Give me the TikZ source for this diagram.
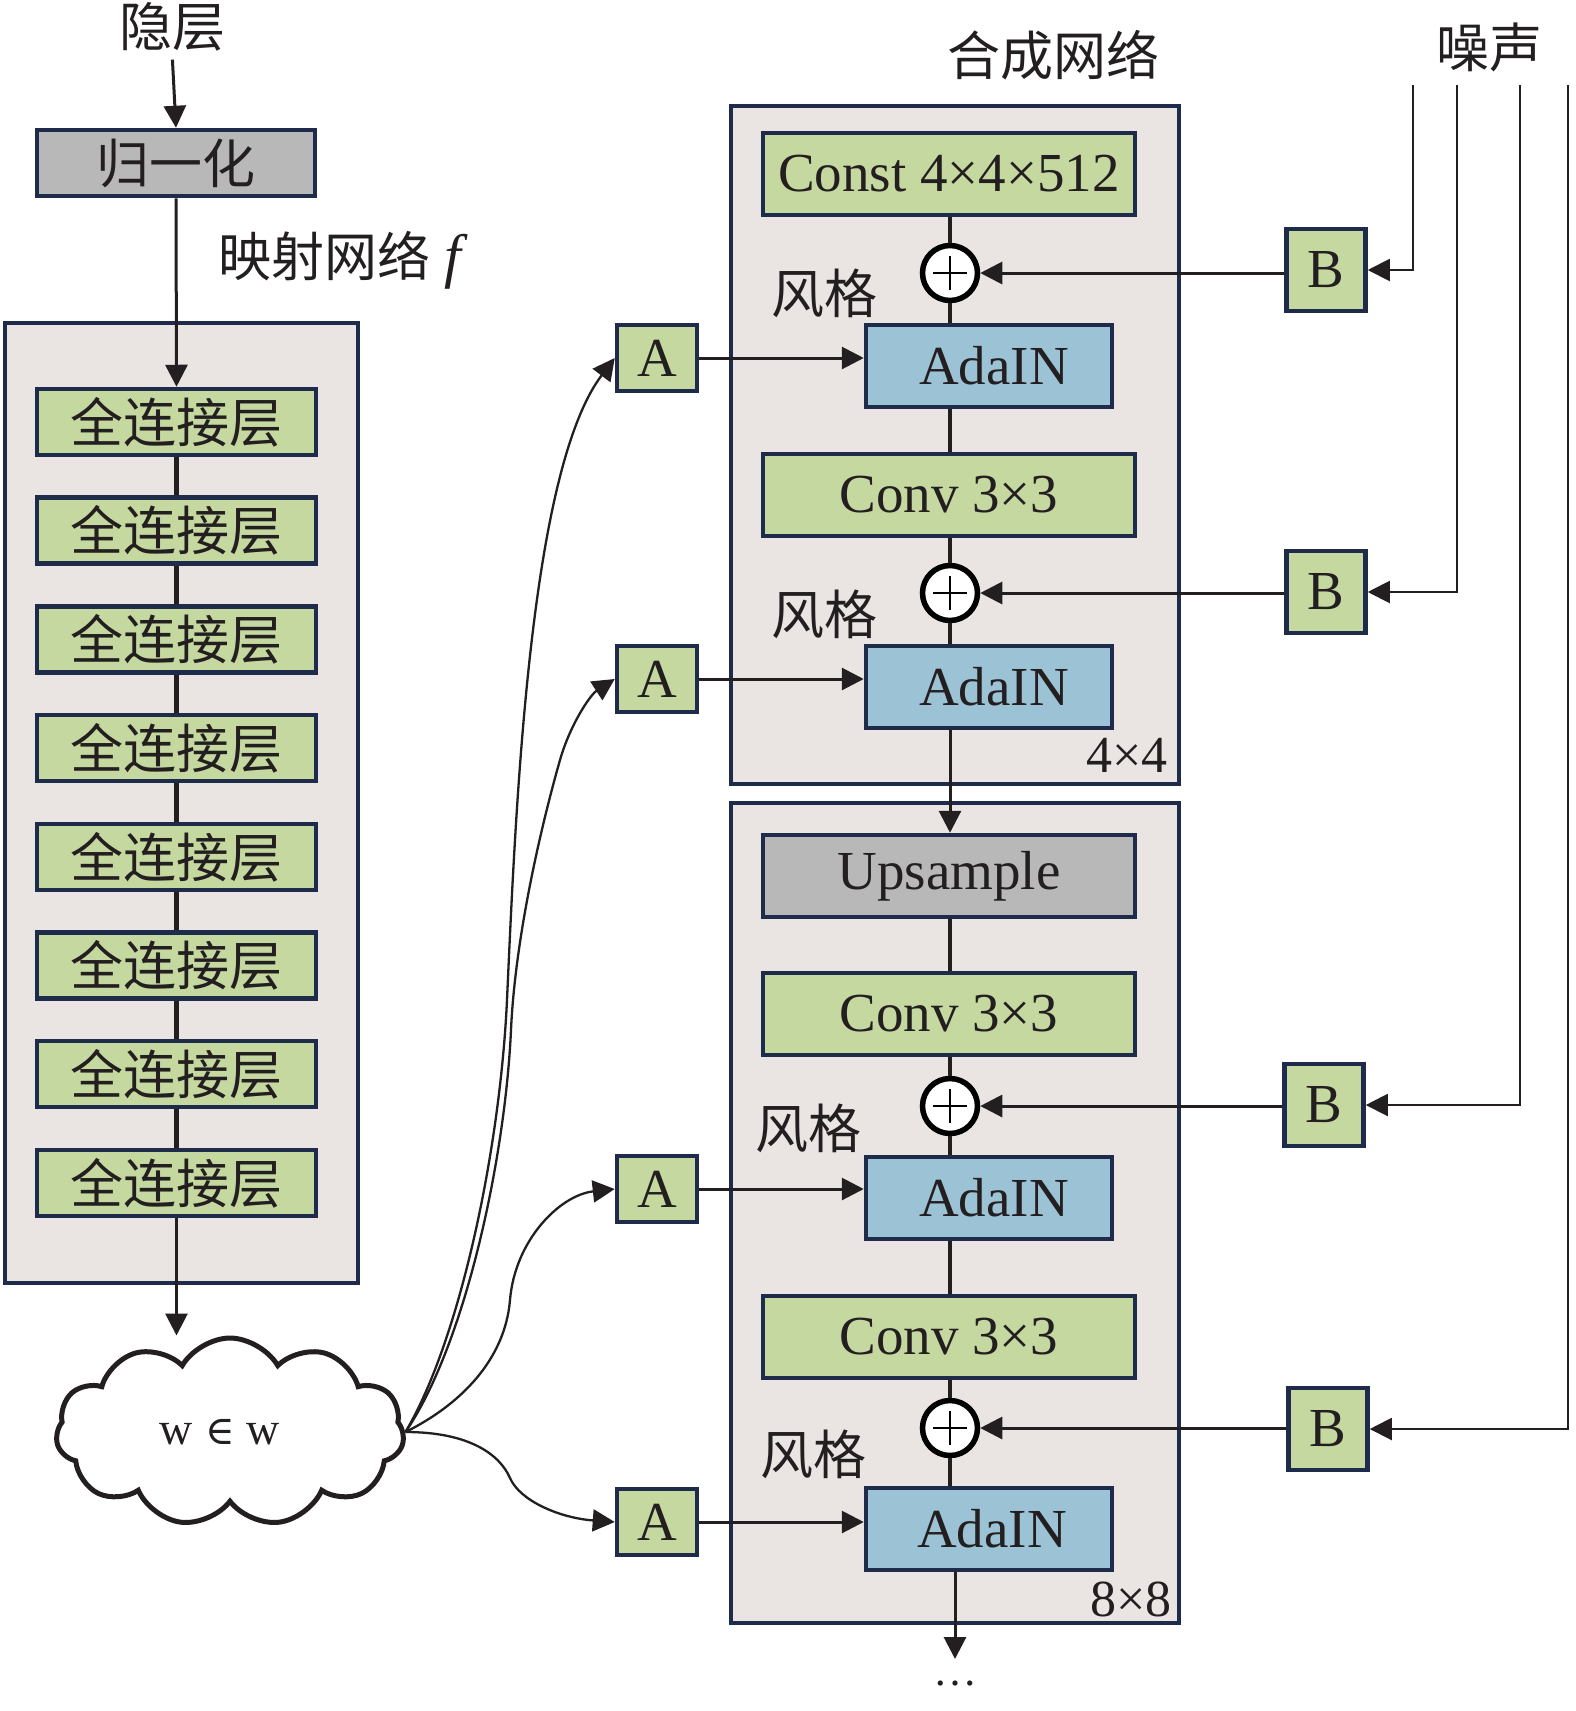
\documentclass[tikz,border=0pt]{standalone}
\usepackage{fontspec}
\setmainfont{Liberation Serif}
\newfontfamily\cjk{Noto Sans CJK SC}
\newfontfamily\symfont{DejaVu Serif}
\usetikzlibrary{arrows.meta,shapes.symbols}
\definecolor{boxgreen}{HTML}{C5D8A0}
\definecolor{boxblue}{HTML}{9BC3D5}
\definecolor{boxgray}{HTML}{B8B8B8}
\definecolor{panelbg}{HTML}{EAE5E3}
\definecolor{navy}{HTML}{1F2B4A}
\definecolor{ink}{HTML}{231F20}
\begin{document}
\begin{tikzpicture}[x=1pt,y=-1pt,
  every node/.style={text=ink, inner sep=0pt},
  cjkfont/.style={font=\cjk\fontsize{53}{60}\selectfont},
  latfont/.style={font=\fontsize{55}{62}\selectfont},
  block/.style={draw=navy, line width=4.5pt, minimum height=82pt},
  fc/.style={block, fill=boxgreen, minimum width=279pt, minimum height=66pt, cjkfont},
  normbox/.style={block, fill=boxgray, minimum width=278pt, minimum height=66pt, cjkfont},
  wide/.style={block, minimum width=372pt, latfont},
  ada/.style={block, fill=boxblue, minimum width=246pt, latfont},
  abox/.style={block, fill=boxgreen, minimum width=80pt, minimum height=66pt, latfont},
  bbox/.style={block, fill=boxgreen, minimum width=79pt, minimum height=82pt, latfont},
  panel/.style={fill=panelbg, draw=navy, line width=4pt},
  oplus/.style={circle, draw=black, fill=white, line width=5.5pt, minimum size=55pt,
    path picture={\draw[line width=2.5pt,black]
      ([xshift=-17pt]path picture bounding box.center) -- ([xshift=17pt]path picture bounding box.center)
      ([yshift=-17pt]path picture bounding box.center) -- ([yshift=17pt]path picture bounding box.center);}},
  arr/.style={draw=ink, line width=3pt, -{Triangle[length=22pt,width=22pt]}},
  curvearr/.style={arr, line width=2.3pt},
  noisearr/.style={arr, line width=2pt},
  link/.style={draw=ink, line width=4.5pt}
]
\useasboundingbox (0,0) rectangle (1575,1711);

% ---------- mapping network ----------
\path[panel] (5,323) rectangle (358,1283);
\node[cjkfont] (hid) at (172,27) {隐层};
\node[normbox] (norm) at (176,163) {归一化};
\node[cjkfont, anchor=west] (mapl) at (218,260)
  {映射网络\hspace{14pt}{\rmfamily\itshape\fontsize{60}{66}\selectfont f}};
\foreach \i in {1,...,8}{
  \node[fc] (fc\i) at (176.5,{422+108.7*(\i-1)}) {全连接层};
}
\draw[arr, shorten <=8pt] (hid.south) -- (norm.north);
\draw[arr] (norm.south) -- (fc1.north);
\foreach \i [count=\j from 2] in {1,...,7}{
  \draw[link] (fc\i.south) -- (fc\j.north);
}
\node[cloud, cloud puffs=11, cloud puff arc=120, aspect=1.8, draw=ink, line width=5pt,
      fill=white, minimum width=348pt, minimum height=188pt,
      font=\fontsize{46}{52}\selectfont] (w) at (230,1432)
      {\hspace{-20pt}w\hspace{12pt}{\symfont\fontsize{40}{46}\selectfont ∈}\hspace{12pt}w};
\draw[arr] (fc8.south) -- (fc8.south |- w.north);

% ---------- synthesis network ----------
\node[cjkfont] (synt) at (1053,55) {合成网络};
\path[panel] (731,106) rectangle (1179,784);
\path[panel] (731,803) rectangle (1179,1623);

\node[wide, fill=boxgreen] (const) at (949,174) {Const 4×4×512};
\node[oplus] (p1) at (950,273) {};
\node[cjkfont] (s1) at (824,293) {风格};
\node[ada] (ada1) at (989,366) {\hspace{10pt}AdaIN};
\node[wide, fill=boxgreen] (conv1) at (949,495) {Conv 3×3};
\node[oplus] (p2) at (950,593) {};
\node[cjkfont] (s2) at (824,614) {风格};
\node[ada] (ada2) at (989,687) {\hspace{10pt}AdaIN};
\node[font=\fontsize{52}{58}\selectfont, anchor=east] (r4) at (1168,755) {4×4};

\node[wide, fill=boxgray] (up) at (949,876) {Upsample};
\node[wide, fill=boxgreen] (conv2) at (949,1014) {Conv 3×3};
\node[oplus] (p3) at (950,1106) {};
\node[cjkfont] (s3) at (808,1128) {风格};
\node[ada] (ada3) at (989,1198) {\hspace{10pt}AdaIN};
\node[wide, fill=boxgreen] (conv3) at (949,1337) {Conv 3×3};
\node[oplus] (p4) at (950,1428) {};
\node[cjkfont] (s4) at (813,1454) {风格};
\node[ada] (ada4) at (989,1529) {\hspace{6pt}AdaIN};
\node[font=\fontsize{52}{58}\selectfont, anchor=east] (r8) at (1172,1599) {8×8};

\coordinate (out) at (955,1659);
\node[font=\fontsize{44}{50}\selectfont] (dots) at (955,1684) {…};

% chain
\draw[link] (p1 |- const.south) -- (p1.north);
\draw[link] (p1.south) -- (p1 |- ada1.north);
\draw[link] (p1 |- ada1.south) -- (p1 |- conv1.north);
\draw[link] (p2 |- conv1.south) -- (p2.north);
\draw[link] (p2.south) -- (p2 |- ada2.north);
\draw[arr] (p2 |- ada2.south) -- (p2 |- up.north);
\draw[link] (p3 |- up.south) -- (p3 |- conv2.north);
\draw[link] (p3 |- conv2.south) -- (p3.north);
\draw[link] (p3.south) -- (p3 |- ada3.north);
\draw[link] (p3 |- ada3.south) -- (p3 |- conv3.north);
\draw[link] (p4 |- conv3.south) -- (p4.north);
\draw[link] (p4.south) -- (p4 |- ada4.north);
\draw[arr] (out |- ada4.south) -- (out);

% A boxes
\node[abox] (A1) at (657,358) {A};
\node[abox] (A2) at (657,679) {A};
\node[abox] (A3) at (657,1189) {A};
\node[abox] (A4) at (657,1522) {A};
\foreach \k in {1,...,4}{
  \draw[arr] (A\k.east) -- (A\k.east -| ada\k.west);
}
\draw[curvearr] (w.east) .. controls (460,1340) and (500,1150) .. (507,1000)
  .. controls (516,800) and (530,470) .. (A1.west);
\draw[curvearr] (w.east) .. controls (465,1345) and (505,1160) .. (511,1030)
  .. controls (515,940) and (540,830) .. (560,760)
  .. controls (570,725) and (590,695) .. (A2.west);
\draw[curvearr] (w.east) .. controls (460,1405) and (505,1360) .. (510,1300)
  .. controls (515,1240) and (560,1195) .. (A3.west);
\draw[curvearr] (w.east) .. controls (470,1432) and (500,1455) .. (510,1478)
  .. controls (520,1501) and (560,1518) .. (A4.west);

% B boxes and noise
\node[cjkfont] (noise) at (1489,47) {噪声};
\node[bbox] (B1) at (1326,270) {B};
\node[bbox] (B2) at (1326,592) {B};
\node[bbox] (B3) at (1324,1105) {B};
\node[bbox] (B4) at (1328,1429) {B};
\foreach \k in {1,...,4}{
  \draw[arr] (B\k.west |- p\k.east) -- (p\k.east);
}
\coordinate (n1) at (1413,85);
\coordinate (n2) at (1457,85);
\coordinate (n3) at (1520,85);
\coordinate (n4) at (1568,85);
\foreach \k in {1,...,4}{
  \draw[noisearr] (n\k) |- (B\k.east);
}
\end{tikzpicture}
\end{document}
